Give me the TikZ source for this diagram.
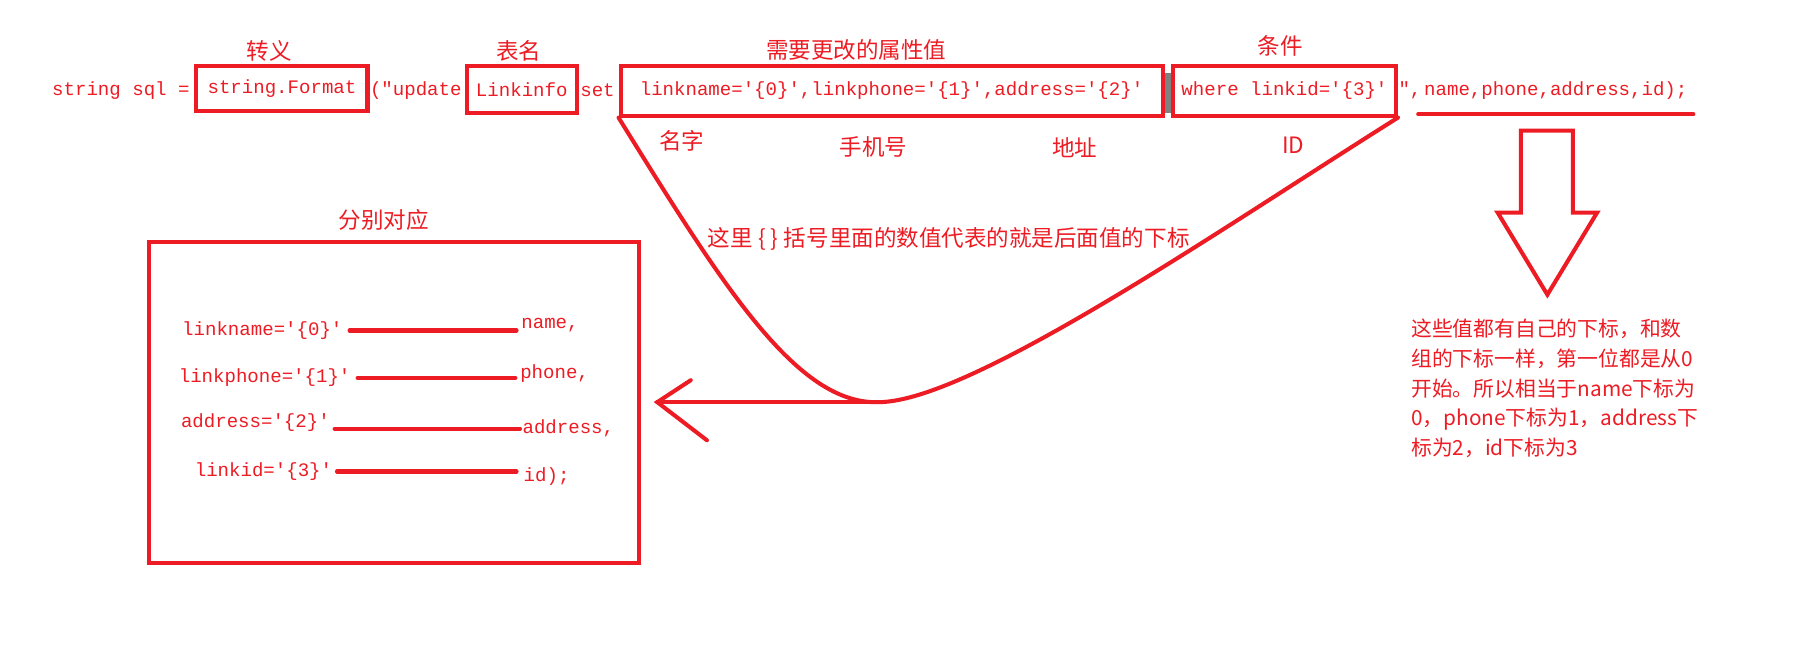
\documentclass[tikz,border=0pt]{standalone}
\usepackage{fontspec}
\setmonofont{Liberation Mono}
\newfontfamily\cjk{Noto Sans CJK SC}
\usepackage{xcolor}
\usepackage{tikz}
\usetikzlibrary{positioning, calc}
\definecolor{paintred}{RGB}{237, 28, 36}
\definecolor{cursor}{RGB}{128, 128, 128}
\tikzstyle{code} = [inner sep=0pt, text=paintred, font=\ttfamily\fontsize{16.5}{18}\selectfont]
\tikzstyle{hilite} = [rectangle, draw=paintred, line width=3.5pt, inner sep=0pt, text=paintred, font=\ttfamily\fontsize{16.5}{18}\selectfont]
\tikzstyle{note} = [inner sep=0pt, text=paintred, font=\cjk\fontsize{19.5}{22}\selectfont]
\tikzstyle{pen} = [draw=paintred, line width=3.5pt, line cap=round]

\begin{document}
\begin{tikzpicture}[x=1pt, y=-1pt]
    \useasboundingbox [fill=white] (0,0) rectangle (1568,574);

    % Code line
    \node (sqlhead) [code, anchor=west] at (45,78) {string sql =};
    \node (fmt) [hilite, minimum width=148pt, minimum height=39pt] at (244,76.5) {string.Format};
    \node (upd) [code, anchor=west] at (320,78) {("update};
    \node (tbl) [hilite, minimum width=95pt, minimum height=41pt] at (451.5,77.5) {Linkinfo};
    \node (setkw) [code, anchor=west] at (502,78) {set};
    \node (attrs) [hilite, minimum width=469pt, minimum height=43pt] at (771.5,78.5) {linkname='\{0\}',linkphone='\{1\}',address='\{2\}'};
    \draw [cursor, line width=5pt] ([xshift=-4pt, yshift=-6pt]1015,57) -- ([xshift=-4pt]1015,98);
    \node (cond) [hilite, minimum width=193pt, minimum height=43pt] at (1111.5,78.5) {where linkid='\{3\}'};
    \node (quote) [code, anchor=west] at (1210,78) {",};
    \node (args) [code, right=2pt of quote] {name,phone,address,id);};
    \draw [pen] ([xshift=-5pt, yshift=-13pt]args.south west) -- ([xshift=5pt, yshift=-13pt]args.south east);

    % Labels
    \node (lblesc) [note] at (233,44) {转义};
    \node (lbltbl) [note] at (449,44) {表名};
    \node (lblattr) [note] at (741,43) {需要更改的属性值};
    \node (lblcond) [note] at (1108,40) {条件};
    \node (lblname) [note] at (590,122) {名字};
    \node (lblphone) [note] at (756,127) {手机号};
    \node (lbladdr) [note] at (930,128) {地址};
    \node (lblid) [note] at (1119,126) {ID};

    % Curve under the values
    \coordinate (bend) at (760,348);
    \draw [pen] (attrs.south west) .. controls (627,250) and (690,350) .. (bend)
        .. controls (840,348) and (1058,197) .. (cond.south east);
    \node (hint) [note, anchor=west] at (612,207) {这里\kern5pt\{\kern4pt\}\kern5pt括号里面的数值代表的就是后面值的下标};

    % Mapping box
    \node (mapbox) [hilite, minimum width=424pt, minimum height=278pt] at (341,348) {};
    \node (lblmap) [note] at (332,190) {分别对应};
    \node (kname) [code] at (227,286) {linkname='\{0\}'};
    \node (vname) [code, anchor=west] at (451,281) {name,};
    \node (kphone) [code] at (229,327) {linkphone='\{1\}'};
    \node (vphone) [code, anchor=west] at (450,323) {phone,};
    \node (kaddr) [code] at (221,366) {address='\{2\}'};
    \node (vaddr) [code, anchor=west] at (452,371) {address,};
    \node (kid) [code] at (228,408) {linkid='\{3\}'};
    \node (vid) [code, anchor=west] at (453,412) {id);};
    \draw [pen, shorten <=6pt, shorten >=4pt] (kname.east) -- (kname.east -| vname.west);
    \draw [pen, shorten <=6pt, shorten >=4pt] (kphone.east) -- (kphone.east -| vphone.west);
    \draw [pen, shorten <=4pt, shorten >=2pt] (vaddr.west -| kaddr.east) -- (vaddr.west);
    \draw [pen, shorten <=4pt, shorten >=6pt] (kid.east) -- (kid.east -| vid.west);

    % Arrow back to the box
    \coordinate (tip) at ([xshift=14pt]mapbox.east);
    \draw [pen] (bend) -- (tip);
    \draw [pen] ([xshift=29pt, yshift=19pt]tip) -- (tip) -- ([xshift=43pt, yshift=-33pt]tip);

    % Hollow down arrow
    \draw [pen, line cap=butt, line join=miter] (1316,113) -- (1361,113) -- (1361,184) -- (1382,184)
        -- (1339,255) -- (1296,184) -- (1316,184) -- cycle;
    \node (explain) [note, anchor=north west, align=left, font=\cjk\fontsize{18}{25.7}\selectfont] at (1221,276)
        {这些值都有自己的下标，和数\\组的下标一样，第一位都是从0\\开始。所以相当于name下标为\\0，phone下标为1，address下\\标为2，id下标为3};
\end{tikzpicture}
\end{document}
